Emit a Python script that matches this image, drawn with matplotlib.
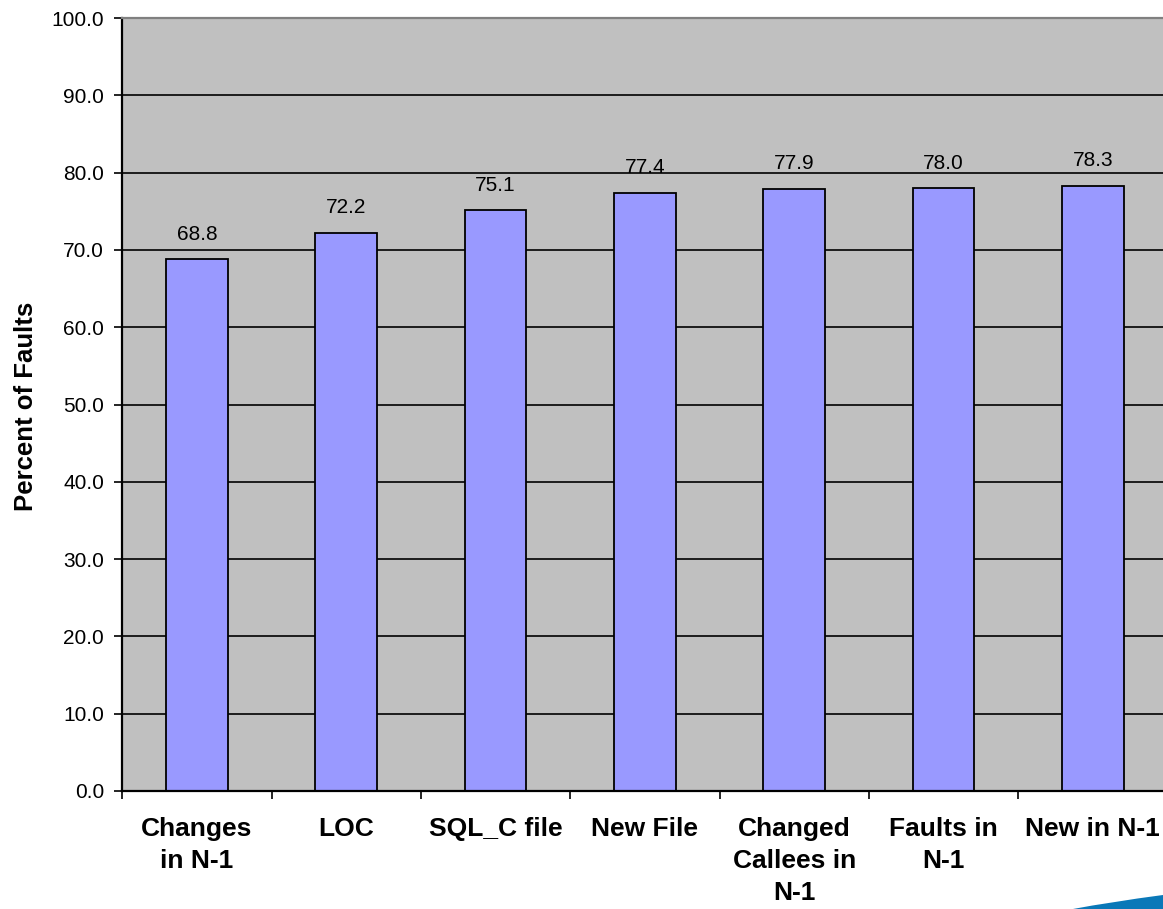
import matplotlib
matplotlib.use("Agg")
import matplotlib.pyplot as plt
from matplotlib.path import Path
from matplotlib.patches import PathPatch
from matplotlib.ticker import FormatStrFormatter, FixedLocator

plt.rcParams['font.family'] = ['Liberation Sans', 'DejaVu Sans']

categories = ["Changes\nin N-1", "LOC", "SQL_C file", "New File",
              "Changed\nCallees in\nN-1", "Faults in\nN-1", "New in N-1"]
percent_faults = [68.8, 72.2, 75.1, 77.4, 77.9, 78.0, 78.3]
y_ticks = [0, 10, 20, 30, 40, 50, 60, 70, 80, 90, 100]

W, H = 1163, 909
fig = plt.figure(figsize=(W / 100, H / 100), dpi=100)
fig.patch.set_facecolor("white")

# plot area in pixels (the right edge runs just past the figure)
left, right, top, bottom = 122.3, 1167.4, 18, 791
ax = fig.add_axes([left / W, 1 - bottom / H, (right - left) / W, (bottom - top) / H])
ax.set_facecolor("#C0C0C0")

n = len(categories)
centers = [i + 0.5 for i in range(n)]

ax.set_xlim(0, n)
ax.set_ylim(0, 100)

# horizontal gridlines
for y in y_ticks[1:-1]:
    ax.axhline(y, color="black", lw=1.2, zorder=1)

ax.bar(centers, percent_faults, width=0.413, color="#9999FF",
       edgecolor="black", linewidth=1.3, zorder=2)

for x, v in zip(centers, percent_faults):
    ax.annotate(f"{v:.1f}", xy=(x, v), xytext=(0, 14), textcoords="offset points",
                ha="center", va="baseline", fontsize=15, color="black", zorder=3)

# spines
for s in ("right", "bottom"):
    ax.spines[s].set_visible(False)
ax.spines["top"].set_color("#808080")
ax.spines["top"].set_linewidth(1.6)
ax.spines["left"].set_color("black")
ax.spines["left"].set_linewidth(1.6)
ax.axhline(0, color="black", lw=1.6, zorder=4, clip_on=False)

# y axis
ax.yaxis.set_major_locator(FixedLocator(y_ticks))
ax.yaxis.set_major_formatter(FormatStrFormatter("%.1f"))
ax.tick_params(axis="y", direction="out", length=6, width=1.2, pad=7,
               labelsize=15, colors="black")
ax.set_ylabel("Percent of Faults", fontsize=18.5, fontweight="bold")
ax.yaxis.set_label_coords(38 / W, (H - 406) / H, transform=fig.transFigure)

# x axis: boundary ticks (major), category labels (minor)
ax.xaxis.set_major_locator(FixedLocator(list(range(n + 1))))
ax.xaxis.set_major_formatter(plt.NullFormatter())
ax.xaxis.set_minor_locator(FixedLocator(centers))
ax.set_xticklabels(categories, minor=True, fontsize=19, fontweight="bold",
                   linespacing=1.4, va="top")
ax.tick_params(axis="x", which="major", direction="out", length=6, width=1.2)
ax.tick_params(axis="x", which="minor", length=0, pad=19)

# blue swoosh in the lower right corner
verts = [(1073 / W, 0), (1110 / W, 7 / H), (1163 / W, 14 / H), (1163 / W, 0), (1073 / W, 0)]
codes = [Path.MOVETO, Path.CURVE3, Path.CURVE3, Path.LINETO, Path.CLOSEPOLY]
fig.patches.append(PathPatch(Path(verts, codes), transform=fig.transFigure,
                             facecolor="#0A78B8", edgecolor="none"))

fig.savefig("out.png", dpi=100)
